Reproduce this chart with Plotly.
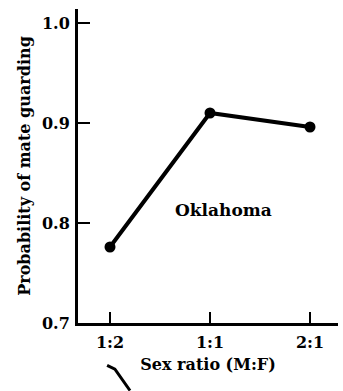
import plotly.graph_objects as go

categories = ["1:2", "1:1", "2:1"]
positions = [0, 1, 2]
guarding = [0.776, 0.910, 0.896]
y_ticks = [0.7, 0.8, 0.9, 1.0]
y_tick_labels = ["0.7", "0.8", "0.9", "1.0"]

FONT = "DejaVu Serif"
BLACK = "#000000"

fig = go.Figure()
fig.add_trace(go.Scatter(
    x=positions, y=guarding, mode="lines+markers",
    line=dict(color=BLACK, width=4),
    marker=dict(color=BLACK, size=11),
    showlegend=False, cliponaxis=False,
))

fig.add_annotation(x=1.13, y=0.813, xref="x", yref="y", text="<b>Oklahoma</b>",
                   showarrow=False, font=dict(family=FONT, size=17, color=BLACK))

# small stray stroke below the axis title
fig.add_shape(type="path", xref="paper", yref="paper",
              path="M 0.112 -0.135 L 0.142 -0.147 L 0.20 -0.215",
              line=dict(color=BLACK, width=3))

fig.update_layout(
    width=343, height=391,
    margin=dict(l=78, r=5, t=9, b=68),
    paper_bgcolor="white", plot_bgcolor="white",
    font=dict(family=FONT, color=BLACK, size=16),
    xaxis=dict(
        range=[-0.32, 2.28], tickvals=positions, ticktext=[f"<b>{c}</b>" for c in categories],
        ticks="inside", ticklen=11, tickwidth=2, tickcolor=BLACK,
        showline=True, linewidth=3, linecolor=BLACK, showgrid=False, zeroline=False,
        tickfont=dict(family=FONT, size=16, color=BLACK), ticklabelstandoff=3,
        title=dict(text="<b>Sex ratio (M:F)</b>", font=dict(family=FONT, size=16, color=BLACK), standoff=8),
    ),
    yaxis=dict(
        range=[0.7, 1.014], tickvals=y_ticks, ticktext=[f"<b>{t}</b>" for t in y_tick_labels],
        ticks="inside", ticklen=12, tickwidth=2, tickcolor=BLACK,
        showline=True, linewidth=3, linecolor=BLACK, showgrid=False, zeroline=False,
        tickfont=dict(family=FONT, size=16, color=BLACK), ticklabelstandoff=2,
        title=dict(text="<b>Probability of mate guarding</b>", font=dict(family=FONT, size=16, color=BLACK), standoff=8),
    ),
)

fig.write_html("out.html")
